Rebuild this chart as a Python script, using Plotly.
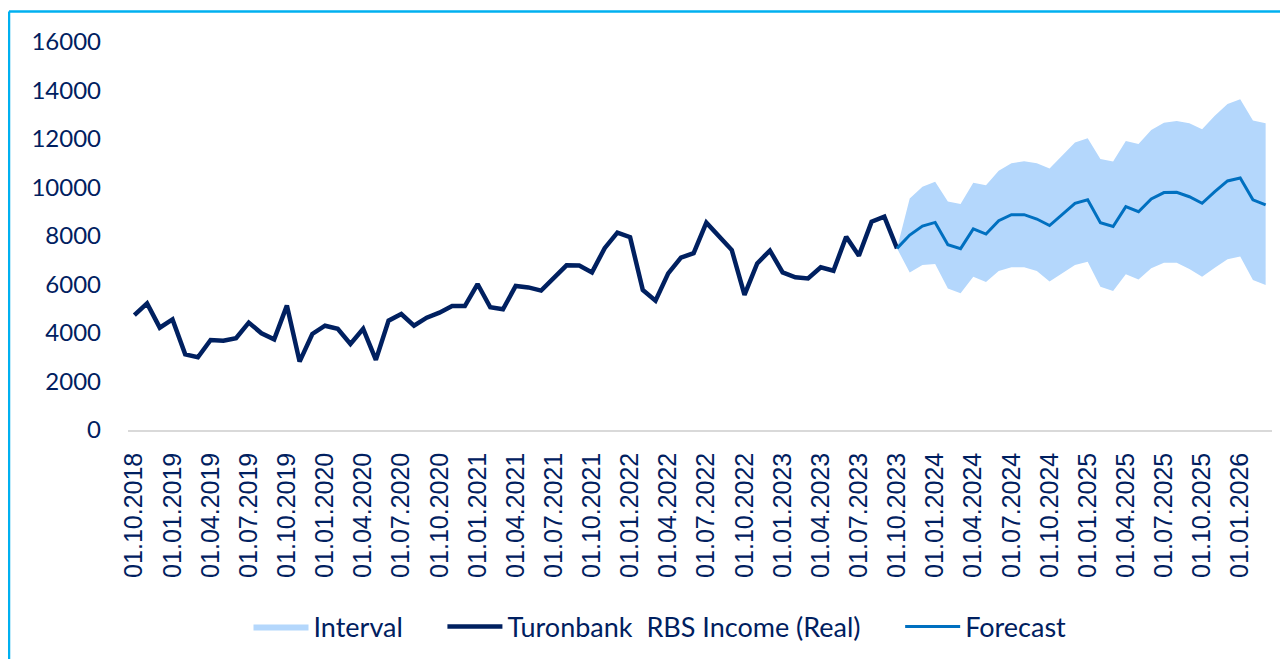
import pandas as pd
import plotly.graph_objects as go

# Monthly categories: 01.10.2018 .. 01.03.2026
categories = list(pd.date_range(start="2018-10-01", periods=90, freq="MS").strftime("%d.%m.%Y"))

real_values = [4740, 5220, 4220, 4560, 3120, 3000, 3710, 3680, 3790, 4430,
               3990, 3740, 5130, 2820, 3960, 4300, 4170, 3550, 4170, 2890,
               4510, 4780, 4300, 4630, 4840, 5110, 5110, 6020, 5060, 4980,
               5940, 5880, 5750, 6300, 6790, 6780, 6500, 7500, 8140, 7950,
               5770, 5330, 6460, 7110, 7290, 8550, 7970, 7420, 5570, 6870,
               7400, 6500, 6300, 6250, 6710, 6570, 7970, 7190, 8590, 8800,
               7490]

forecast_values = [7490, 8040, 8410, 8560, 7640, 7480, 8290, 8080, 8630, 8880,
                   8880, 8700, 8430, 8890, 9350, 9490, 8550, 8390, 9210, 9000,
                   9530, 9790, 9800, 9620, 9350, 9830, 10270, 10390, 9490, 9280]

interval_upper = [7490, 9550, 10030, 10240, 9420, 9320, 10200, 10090, 10690, 11000,
                  11080, 11000, 10780, 11340, 11860, 12030, 11180, 11070, 11920, 11790,
                  12370, 12670, 12740, 12650, 12400, 12960, 13440, 13640, 12760, 12650]

interval_lower = [7490, 6490, 6800, 6850, 5840, 5640, 6320, 6100, 6560, 6710,
                  6710, 6560, 6120, 6460, 6800, 6940, 5910, 5730, 6420, 6210,
                  6670, 6900, 6900, 6640, 6320, 6690, 7040, 7150, 6190, 5980]

tick_labels = categories[::3]

real_x = categories[:len(real_values)]
fc_x = categories[len(real_values) - 1:]

NAVY = "#002060"
BLUE = "#0070C0"
FILL = "#B4D7FC"
PAD = "\u00a0" * 5

W, H = 1280, 651
ML, MR, MT, MB = 120, 16, 34, 229
PW = W - ML - MR
PH = H - MT - MB
bx = (1 - ML) / PW
by = 1 + (MT - 3.5) / PH

fig = go.Figure()
fig.add_trace(go.Scatter(x=fc_x, y=interval_lower, mode="lines",
                         line=dict(width=0, color=FILL), showlegend=False,
                         hoverinfo="skip"))
fig.add_trace(go.Scatter(x=fc_x, y=interval_upper, mode="lines", name="Interval" + PAD,
                         line=dict(width=0, color=FILL), fill="tonexty",
                         fillcolor=FILL))
fig.add_trace(go.Scatter(x=real_x, y=real_values, mode="lines",
                         name="Turonbank  RBS Income (Real)" + PAD,
                         line=dict(color=NAVY, width=4.5)))
fig.add_trace(go.Scatter(x=fc_x, y=forecast_values, mode="lines", name="Forecast",
                         line=dict(color=BLUE, width=3)))

fig.update_layout(
    width=W, height=H,
    margin=dict(l=ML, r=MR, t=MT, b=MB, autoexpand=False),
    paper_bgcolor="white", plot_bgcolor="white",
    showlegend=True,
    legend=dict(orientation="h", x=0.5 - 40 / PW, xanchor="center", y=(-(619 - 422)) / PH,
                yanchor="middle", traceorder="normal",
                font=dict(family="Lato", size=27, color=NAVY), itemwidth=55,
                bgcolor="rgba(0,0,0,0)"),
    xaxis=dict(type="category", categoryorder="array", categoryarray=categories,
               range=[-0.5, 89.5], tickmode="array", tickvals=tick_labels,
               ticktext=tick_labels, tickangle=-90, showgrid=False,
               showline=True, linecolor="#D9D9D9", linewidth=1.5,
               ticks="", ticklabelstandoff=11,
               tickfont=dict(family="Liberation Sans", size=25, color=NAVY)),
    yaxis=dict(range=[0, 16000], dtick=2000, tickformat="d", showgrid=False,
               zeroline=False, showline=False, ticks="", ticklabelstandoff=26,
               tickfont=dict(family="Lato", size=24, color=NAVY)),
    shapes=[
        dict(type="line", xref="paper", yref="paper",
             x0=bx, x1=1.2, y0=by, y1=by,
             line=dict(color="#00B0F0", width=2.5)),
        dict(type="line", xref="paper", yref="paper",
             x0=bx, x1=bx, y0=by, y1=-0.8,
             line=dict(color="#00B0F0", width=2.5)),
    ],
)

fig.write_html("out.html")
